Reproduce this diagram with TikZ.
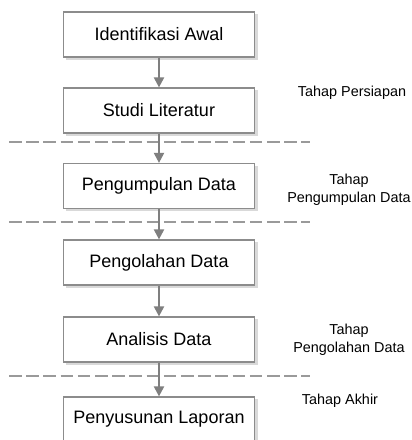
\documentclass[tikz,border=0pt]{standalone}
\usepackage{fontspec}
\setmainfont{Liberation Sans}
\usetikzlibrary{arrows.meta}
\definecolor{boxline}{HTML}{8C8C8C}
\definecolor{shadowc}{HTML}{D9D9D9}
\definecolor{arrowc}{HTML}{7F7F7F}
\definecolor{dashc}{HTML}{9A9A9A}
\begin{document}
\begin{tikzpicture}[x=1pt,y=-1pt,
  stepbox/.style={draw=boxline, line width=1.2pt, fill=white, minimum width=191pt, minimum height=45pt,
    inner sep=0pt, font=\fontsize{18}{21}\selectfont},
  flow/.style={draw=arrowc, line width=2pt, -{Triangle[length=10pt,width=10pt]}},
  sep/.style={draw=dashc, line width=1.8pt, dash pattern=on 12.5pt off 4.7pt},
  lab/.style={align=center, font=\fontsize{14.4}{18}\selectfont, inner sep=0pt}]
\useasboundingbox (0,0) rectangle (412,440);
\fill[white] (0,0) rectangle (412,440);
% shadows
\foreach \y in {34.5,110.5,186,262.5,339.5,419.5}{
  \fill[shadowc] (65.5,\y-20.5) rectangle (257.5,\y+25);
}
\node[stepbox] (b1) at (159,34.5) {Identifikasi Awal};
\node[stepbox] (b2) at (159,110.5) {Studi Literatur};
\node[stepbox] (b3) at (159,186) {Pengumpulan Data};
\node[stepbox] (b4) at (159,262.5) {Pengolahan Data};
\node[stepbox] (b5) at (159,339.5) {Analisis Data};
\node[stepbox] (b6) at (159,419.5) {Penyusunan Laporan};
\coordinate (d1a) at (9,142); \coordinate (d1b) at (310,142);
\coordinate (d2a) at (9,222); \coordinate (d2b) at (310,222);
\coordinate (d3a) at (9,376); \coordinate (d3b) at (310,376);
\draw[sep] (d1a) -- (d1b);
\draw[sep] (d2a) -- (d2b);
\draw[sep] (d3a) -- (d3b);
\draw[flow] (b1) -- (b2);
\draw[flow] (b2) -- (b3);
\draw[flow] (b3) -- (b4);
\draw[flow] (b4) -- (b5);
\draw[flow] (b5) -- (b6);
\node[lab] (l1) at (352,93) {Tahap Persiapan};
\node[lab] (l2) at (349,190) {Tahap\\Pengumpulan Data};
\node[lab] (l3) at (349,340) {Tahap\\Pengolahan Data};
\node[lab] (l4) at (340,401) {Tahap Akhir};
\end{tikzpicture}
\end{document}
